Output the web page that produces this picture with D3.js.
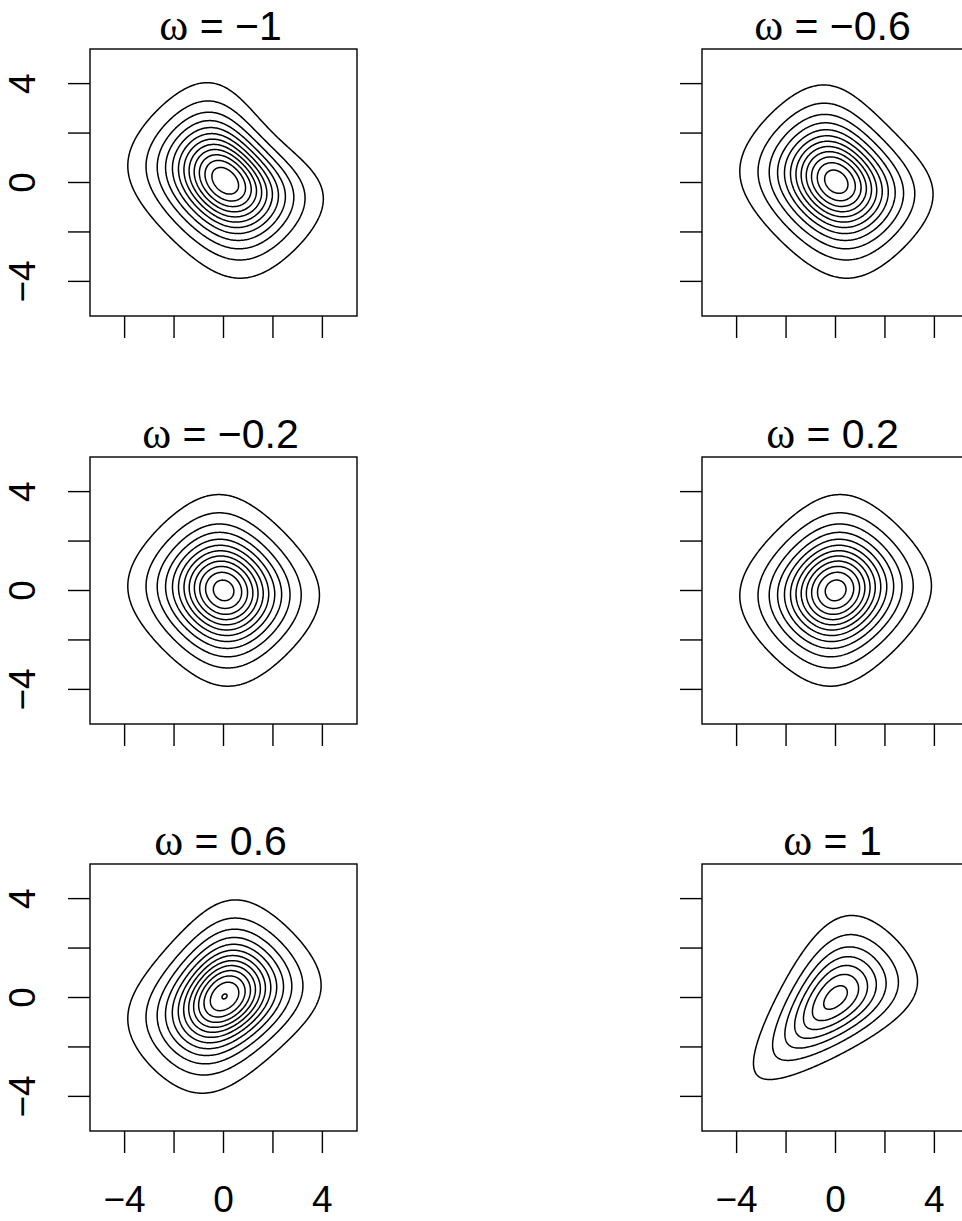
<!DOCTYPE html>
<meta charset="utf-8">
<script src="https://cdn.jsdelivr.net/npm/d3@7"></script>
<style>

body {
  margin: 0;
  background: #fff;
}

text {
  fill: #000;
  font-family: "Liberation Sans", Arial, sans-serif;
}

path.contour {
  fill: none;
  stroke: #000;
  stroke-width: 1.5px;
}

rect.box, line.tick {
  fill: none;
  stroke: #000;
  stroke-width: 1.4px;
}

</style>
<body>
<script>

// dependence parameter of each panel (AMH copula, logistic margins)
var omegas = [-1, -0.6, -0.2, 0.2, 0.6, 1];

// contour levels (as R's contour() picks them)
var levelsFine = [0.005, 0.01, 0.015, 0.02, 0.025, 0.03, 0.035, 0.04, 0.045, 0.05, 0.055, 0.06, 0.065];
var levelsCoarse = [0.01, 0.02, 0.03, 0.04, 0.05, 0.06, 0.07];
var panelLevels = [levelsFine, levelsFine, levelsFine, levelsFine, levelsFine, levelsCoarse];

var axisTicks = [-4, -2, 0, 2, 4];
var tickLabels = [-4, 0, 4];
var gridRange = [-5, 5];
var axisRange = [-5.4, 5.4];

var width = 962,
    height = 1221,
    boxSize = 267,
    tickLen = 22;

var colLeft = [90, 702],
    rowTop = [49, 457, 864];

// AMH copula density with standard logistic margins
function density(x, y, w) {
  var u = 1 / (1 + Math.exp(-x)),
      v = 1 / (1 + Math.exp(-y));
  var num = 1 + w * ((1 + u) * (1 + v) - 3) + w * w * (1 - u) * (1 - v),
      den = Math.pow(1 - w * (1 - u) * (1 - v), 3);
  return num / den * u * (1 - u) * v * (1 - v);
}

var n = 241,
    step = (gridRange[1] - gridRange[0]) / (n - 1);

var svg = d3.select("body").append("svg")
    .attr("width", width)
    .attr("height", height);

function fmt(d) {
  return d < 0 ? "\u2212" + Math.abs(d) : String(d);
}

omegas.forEach(function(w, i) {
  var col = i % 2,
      row = Math.floor(i / 2),
      x0 = colLeft[col],
      y0 = rowTop[row];

  var x = d3.scaleLinear().domain(axisRange).range([x0, x0 + boxSize]);
  var y = d3.scaleLinear().domain(axisRange).range([y0 + boxSize, y0]);

  var values = new Array(n * n);
  for (var j = 0; j < n; j++) {
    for (var k = 0; k < n; k++) {
      values[j * n + k] = density(gridRange[0] + k * step, gridRange[0] + j * step, w);
    }
  }

  var contours = d3.contours()
      .size([n, n])
      .thresholds(panelLevels[i])(values);

  var proj = d3.geoTransform({
    point: function(gx, gy) {
      this.stream.point(x(gridRange[0] + (gx - 0.5) * step), y(gridRange[0] + (gy - 0.5) * step));
    }
  });

  var g = svg.append("g");

  g.selectAll("path.contour")
      .data(contours)
    .enter().append("path")
      .attr("class", "contour")
      .attr("d", d3.geoPath(proj));

  g.append("rect")
      .attr("class", "box")
      .attr("x", x0)
      .attr("y", y0)
      .attr("width", boxSize)
      .attr("height", boxSize);

  // x ticks
  g.selectAll("line.xt")
      .data(axisTicks)
    .enter().append("line")
      .attr("class", "tick")
      .attr("x1", function(d) { return x(d); })
      .attr("x2", function(d) { return x(d); })
      .attr("y1", y0 + boxSize)
      .attr("y2", y0 + boxSize + tickLen);

  // y ticks
  g.selectAll("line.yt")
      .data(axisTicks)
    .enter().append("line")
      .attr("class", "tick")
      .attr("y1", function(d) { return y(d); })
      .attr("y2", function(d) { return y(d); })
      .attr("x1", x0)
      .attr("x2", x0 - tickLen);

  if (col == 0) {
    g.selectAll("text.ylab")
        .data(tickLabels)
      .enter().append("text")
        .attr("transform", function(d) { return "translate(" + (x0 - 55) + "," + y(d) + ") rotate(-90)"; })
        .attr("text-anchor", "middle")
        .style("font-size", "37px")
        .text(fmt);
  }

  if (row == 2) {
    g.selectAll("text.xlab")
        .data(tickLabels)
      .enter().append("text")
        .attr("x", function(d) { return x(d); })
        .attr("y", y0 + boxSize + 81)
        .attr("text-anchor", "middle")
        .style("font-size", "37px")
        .text(fmt);
  }

  // title
  var t = g.append("text")
      .attr("x", x0 + boxSize / 2 - 3)
      .attr("y", y0 - 9)
      .attr("text-anchor", "middle")
      .style("font-size", "41px");
  t.append("tspan")
      .style("font-family", "'Liberation Serif', 'DejaVu Serif', serif")
      .style("font-size", "44px")
      .text("\u03c9");
  t.append("tspan")
      .text(" = " + fmt(w));
});

</script>
</body>
</html>
